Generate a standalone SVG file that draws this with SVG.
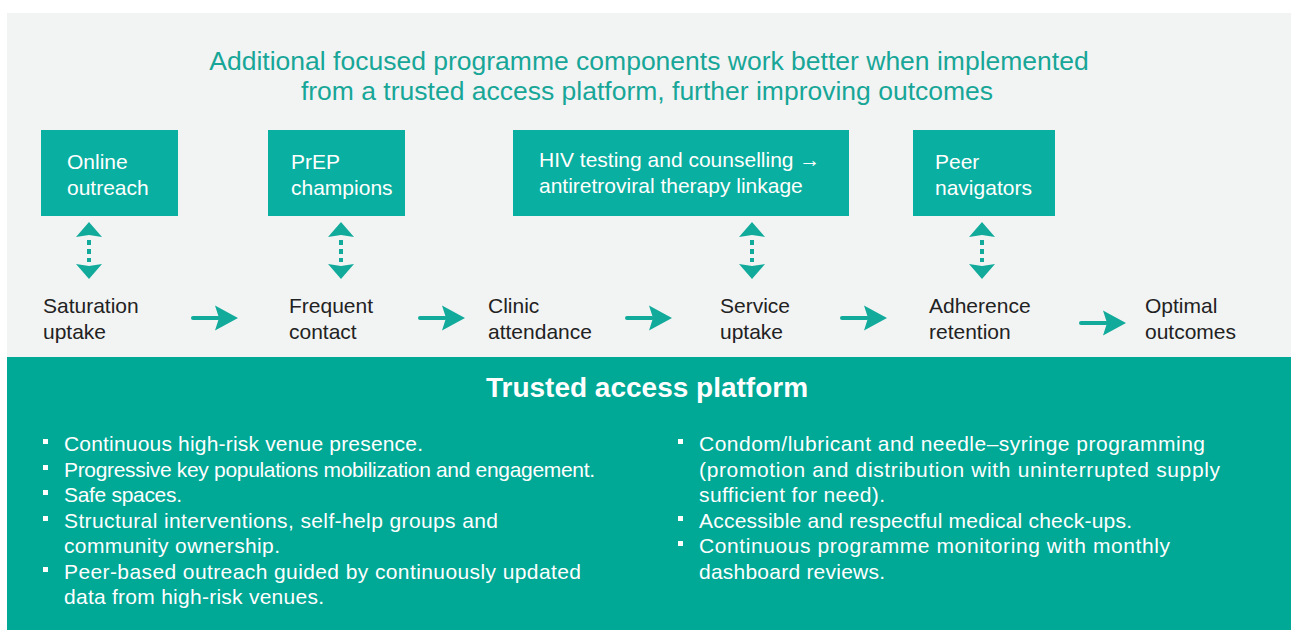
<svg xmlns="http://www.w3.org/2000/svg" width="1291" height="630" viewBox="0 0 1291 630">
<style>
.t{font-family:"Liberation Sans",Arial,sans-serif}
.title{font-size:26.5px;fill:#17a697}
.box{fill:#09afa0}
.btxt{font-size:21px;fill:#ffffff}
.lbl{font-size:21px;fill:#222222}
.ptitle{font-size:28px;font-weight:bold;fill:#ffffff}
.bul{font-size:21px;fill:#ffffff}
.sq{fill:#ffffff}
.ar{fill:#12ab9b}
.shaft{stroke:#12ab9b;stroke-width:4;stroke-linecap:round;fill:none}
.dash{stroke:#12ab9b;stroke-width:4;stroke-dasharray:5 4;fill:none}
</style>
<defs>
<g id="harrow">
<line class="shaft" x1="-45" y1="0" x2="-20" y2="0"/>
<polygon class="ar" points="0,0 -23,-12.5 -19,0 -23,12.5"/>
</g>
<g id="varrow">
<polygon class="ar" points="0,222 13,237 0,235 -13,237"/>
<line class="dash" x1="0" y1="240" x2="0" y2="262"/>
<polygon class="ar" points="0,279 13,264 0,266 -13,264"/>
</g>
</defs>
<rect x="0" y="0" width="1291" height="630" fill="#ffffff"/>
<rect x="7" y="13" width="1284" height="344" fill="#f2f4f4"/>
<rect x="7" y="357" width="1284" height="273" fill="#00a896"/>

<g id="heading">
<text class="t title" x="649" y="70" text-anchor="middle">Additional focused programme components work better when implemented</text>
<text class="t title" x="647" y="100" text-anchor="middle">from a trusted access platform, further improving outcomes</text>
</g>

<g id="online-outreach">
<rect class="box" x="41" y="130" width="137" height="86"/>
<text class="t btxt" x="67" y="169">Online</text>
<text class="t btxt" x="67" y="195">outreach</text>
</g>
<g id="prep-champions">
<rect class="box" x="268" y="130" width="137" height="86"/>
<text class="t btxt" x="291" y="169">PrEP</text>
<text class="t btxt" x="291" y="195">champions</text>
</g>
<g id="hiv-testing">
<rect class="box" x="513" y="130" width="336" height="86"/>
<text class="t btxt" x="539" y="167">HIV testing and counselling →</text>
<text class="t btxt" x="539" y="193">antiretroviral therapy linkage</text>
</g>
<g id="peer-navigators">
<rect class="box" x="913" y="130" width="142" height="86"/>
<text class="t btxt" x="935" y="169">Peer</text>
<text class="t btxt" x="935" y="195">navigators</text>
</g>

<g id="saturation-uptake">
<text class="t lbl" x="43" y="313">Saturation</text>
<text class="t lbl" x="43" y="339">uptake</text>
</g>
<g id="frequent-contact">
<text class="t lbl" x="289" y="313">Frequent</text>
<text class="t lbl" x="289" y="339">contact</text>
</g>
<g id="clinic-attendance">
<text class="t lbl" x="488" y="313">Clinic</text>
<text class="t lbl" x="488" y="339">attendance</text>
</g>
<g id="service-uptake">
<text class="t lbl" x="720" y="313">Service</text>
<text class="t lbl" x="720" y="339">uptake</text>
</g>
<g id="adherence-retention">
<text class="t lbl" x="929" y="313">Adherence</text>
<text class="t lbl" x="929" y="339">retention</text>
</g>
<g id="optimal-outcomes">
<text class="t lbl" x="1145" y="313">Optimal</text>
<text class="t lbl" x="1145" y="339">outcomes</text>
</g>

<g id="connectors">
<use href="#varrow" transform="translate(89,0)"/>
<use href="#varrow" transform="translate(341,0)"/>
<use href="#varrow" transform="translate(752,0)"/>
<use href="#varrow" transform="translate(982,0)"/>
<use href="#harrow" transform="translate(238,318)"/>
<use href="#harrow" transform="translate(465,318)"/>
<use href="#harrow" transform="translate(672,318)"/>
<use href="#harrow" transform="translate(887,318)"/>
<use href="#harrow" transform="translate(1126,323)"/>
</g>

<g id="trusted-access-platform">
<text class="t ptitle" x="647" y="397" text-anchor="middle">Trusted access platform</text>
<rect class="sq" x="43" y="439" width="5" height="5"/>
<text class="t bul" x="64" y="451" textLength="359">Continuous high-risk venue presence.</text>
<rect class="sq" x="43" y="465" width="5" height="5"/>
<text class="t bul" x="64" y="477" textLength="531">Progressive key populations mobilization and engagement.</text>
<rect class="sq" x="43" y="490" width="5" height="5"/>
<text class="t bul" x="64" y="502" textLength="118">Safe spaces.</text>
<rect class="sq" x="43" y="516" width="5" height="5"/>
<text class="t bul" x="64" y="528" textLength="434">Structural interventions, self-help groups and</text>
<text class="t bul" x="64" y="553" textLength="216">community ownership.</text>
<rect class="sq" x="43" y="567" width="5" height="5"/>
<text class="t bul" x="64" y="579" textLength="517">Peer-based outreach guided by continuously updated</text>
<text class="t bul" x="64" y="604" textLength="260">data from high-risk venues.</text>

<rect class="sq" x="678" y="439" width="5" height="5"/>
<text class="t bul" x="699" y="451" textLength="506">Condom/lubricant and needle–syringe programming</text>
<text class="t bul" x="699" y="477" textLength="521">(promotion and distribution with uninterrupted supply</text>
<text class="t bul" x="699" y="502" textLength="186">sufficient for need).</text>
<rect class="sq" x="678" y="516" width="5" height="5"/>
<text class="t bul" x="699" y="528" textLength="433">Accessible and respectful medical check-ups.</text>
<rect class="sq" x="678" y="541" width="5" height="5"/>
<text class="t bul" x="699" y="553" textLength="471">Continuous programme monitoring with monthly</text>
<text class="t bul" x="699" y="579" textLength="186">dashboard reviews.</text>
</g>
</svg>
